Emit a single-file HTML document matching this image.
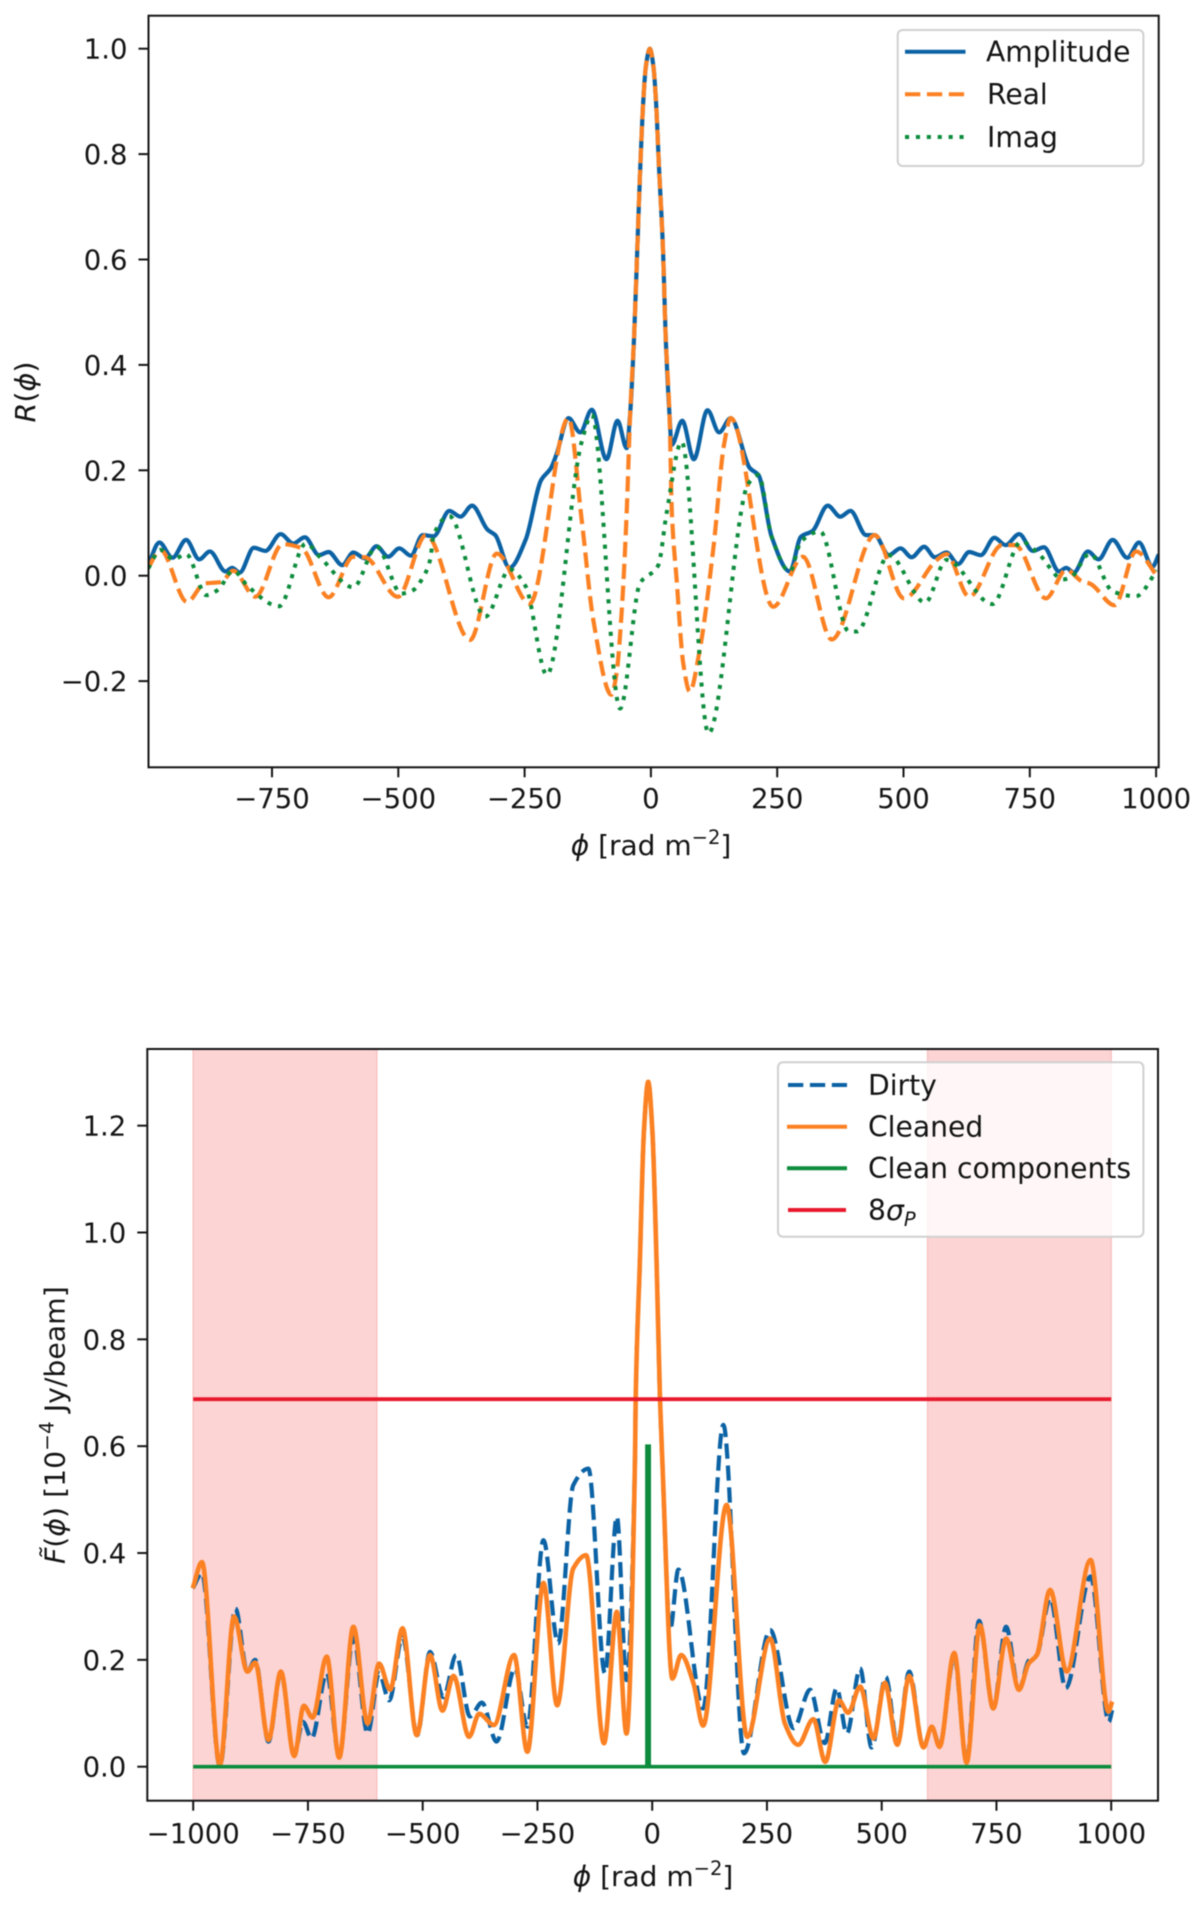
<!DOCTYPE html>
<html>
<head>
<meta charset="utf-8">
<title>RM spread function and cleaned Faraday spectrum</title>
<style>
html,body{margin:0;padding:0;background:#fff;}
#figure{display:block;width:1200px;height:1908px;filter:blur(0.6px);}
text{font-family:"DejaVu Sans","Liberation Sans",sans-serif;font-size:27.5px;fill:#141414;}
.it{font-style:italic;}
.sm{font-size:19.5px;}
.lg{font-size:28.2px;}
.ti{font-size:28px;}
</style>
</head>
<body>
<svg id="figure" xmlns="http://www.w3.org/2000/svg" width="1200" height="1908" viewBox="0 0 1200 1908">
  <defs>
    <clipPath id="clip-top"><rect x="148.5" y="15.7" width="1010.2" height="751.6"/></clipPath>
    <clipPath id="clip-bottom"><rect x="147.3" y="1049" width="1010.7" height="751.7"/></clipPath>
  </defs>
  <rect x="148.5" y="15.7" width="1010.2" height="751.6" fill="#fff"/>
  <rect x="147.3" y="1049" width="1010.7" height="751.7" fill="#fff"/>
  <g id="top-bands" clip-path="url(#clip-top)"></g>
  <g id="bottom-bands" clip-path="url(#clip-bottom)"></g>
  <g id="bottom-lines" clip-path="url(#clip-bottom)"></g>
  <g id="top-axes"></g>
  <g id="bottom-axes"></g>

  <text transform="translate(35,422.5) rotate(-90) scale(1.04,1)" text-anchor="start"><tspan class="it">R</tspan>(<tspan class="it">ϕ</tspan>)</text>
  <text class="ti" x="651" y="855" text-anchor="middle"><tspan class="it">ϕ</tspan> [rad m<tspan class="sm" dy="-11">−2</tspan><tspan dy="11">]</tspan></text>
  <text transform="translate(64.5,1564) rotate(-90) scale(1.03,1)" text-anchor="start"><tspan class="it">F̃</tspan>(<tspan class="it">ϕ</tspan>) [10<tspan class="sm" dy="-11">−4</tspan><tspan dy="11"> Jy/beam]</tspan></text>
  <text class="ti" x="653" y="1886" text-anchor="middle"><tspan class="it">ϕ</tspan> [rad m<tspan class="sm" dy="-11">−2</tspan><tspan dy="11">]</tspan></text>

  <g>
    <rect x="897.7" y="30" width="245.7" height="136" rx="5" fill="#fff" fill-opacity="0.8" stroke="#d0d0d0" stroke-width="2"/>
    <line x1="905" x2="965.5" y1="51.7" y2="51.7" stroke="#0b62a4" stroke-width="4"/>
    <text class="lg" x="986" y="61.5">Amplitude</text>
    <line x1="905" x2="965.5" y1="94.3" y2="94.3" stroke="#fb8122" stroke-width="4" stroke-dasharray="15.3 6.6"/>
    <text class="lg" x="987" y="104">Real</text>
    <line x1="905" x2="965.5" y1="137" y2="137" stroke="#0c8c3c" stroke-width="4" stroke-dasharray="4.1 6.8"/>
    <text class="lg" x="987" y="147">Imag</text>
  </g>
  <g>
    <rect x="778" y="1062.3" width="365.4" height="174.4" rx="5" fill="#fff" fill-opacity="0.8" stroke="#d0d0d0" stroke-width="2"/>
    <line x1="788" x2="847" y1="1085" y2="1085" stroke="#0b62a4" stroke-width="4" stroke-dasharray="15.3 6.6"/>
    <text class="lg" x="868" y="1095">Dirty</text>
    <line x1="787" x2="847" y1="1126.7" y2="1126.7" stroke="#fb8122" stroke-width="4"/>
    <text class="lg" x="868" y="1136.7">Cleaned</text>
    <line x1="787" x2="847" y1="1168.3" y2="1168.3" stroke="#0c8c3c" stroke-width="4"/>
    <text class="lg" x="868" y="1178">Clean components</text>
    <line x1="788" x2="846" y1="1210" y2="1210" stroke="#e8192c" stroke-width="4"/>
    <text class="lg" x="868" y="1220">8<tspan class="it">σ</tspan><tspan class="it sm" dy="6">P</tspan></text>
  </g>
</svg>
<script>
// ---- Top chart data: R(phi) ----
const topXTicks = [-750,-500,-250,0,250,500,750,1000];
const topYTicks = [-0.2,0,0.2,0.4,0.6,0.8,1.0];
const ampPhi = [-995,-973,-947,-920,-894,-873,-842,-829,-814,-786,-763,-733,-708,-685,-657,-638,-611,-589,-566,-543,-520,-498,-475,-452,-430,-399,-377,-354,-323,-308,-280,-248,-217,-198,-187,-163,-140,-117,-88,-66,-48,-41,-33,-27,-21,-15,-10,-2,5,10,16,24,29,37,41,62,85,112,135,158,196,213,239,275,297,320,350,375,395,426,443,471,494,516,541,562,585,608,630,653,680,702,729,756,778,808,822,837,865,886,914,943,966,993,1005];
const ampVals = [.02,.063,.034,.068,.031,.046,.008,.015,.006,.053,.047,.079,.061,.073,.039,.045,.02,.044,.033,.056,.036,.052,.038,.077,.075,.123,.112,.133,.087,.077,.015,.068,.182,.204,.23,.299,.272,.315,.221,.294,.242,.308,.46,.618,.776,.902,.966,1.0,.966,.902,.776,.618,.46,.302,.248,.294,.221,.314,.272,.299,.204,.191,.074,.008,.074,.085,.133,.112,.123,.077,.077,.039,.052,.035,.055,.035,.044,.022,.045,.039,.072,.058,.079,.047,.054,.008,.015,.006,.046,.031,.068,.034,.063,.017,.04];
const realPhi = [-995,-971,-918,-884,-850,-827,-783,-729,-691,-638,-589,-566,-501,-445,-358,-305,-240,-163,-137,-114,-78,-68,-58,-48,-41,-33,-27,-21,-15,-10,-2,5,10,16,24,29,37,41.5,51,64,77,95,124,145,158,242,301,358,443,501,566,585,630,695,721,782,822,854,869,918,960,1005];
const realVals = [.015,.049,-.05,-.015,-.012,.0095,-.04,.06,.052,-.041,.036,.035,-.04,.077,-.122,.042,-.053,.299,.106,-.084,-.226,-.185,-.071,.118,.308,.46,.618,.776,.902,.966,1.0,.966,.902,.776,.618,.46,.302,.119,-.008,-.166,-.22,-.15,.055,.25,.299,-.059,.036,-.121,.077,-.043,.03,.041,-.04,.058,.058,-.043,.011,-.011,-.015,-.056,.046,-.005];
const imagPhi = [-995,-971,-945,-920,-880,-857,-827,-797,-736,-683,-653,-589,-543,-494,-470,-456,-437,-430,-399,-328,-279,-248,-206,-137,-117,-61,-21.6,14.7,31,61,114,193,213,239,275,297,335,392,408,471,543,585,676,733,767,816,830,869,914,960,1002];
const imagVals = [.014,.049,.031,.041,-.037,-.027,.0095,-.021,-.058,.061,.033,-.022,.055,-.034,-.027,-.011,.03,.077,.113,-.078,.012,-.02,-.188,.254,.305,-.252,-.0145,.02,.118,.254,-.299,.175,.191,.074,.008,.065,.084,-.106,-.106,.039,-.051,.03,-.054,.065,.042,-.007,-.004,.042,-.03,-.039,.01];

// ---- Bottom chart data: F(phi) ----
const bottomXTicks = [-1000,-750,-500,-250,0,250,500,750,1000];
const bottomYTicks = [0,0.2,0.4,0.6,0.8,1.0,1.2];
const bandStarts = [-1000,600];
const bandEnds = [-600,1000];
const cleanedPhi = [-1001,-981,-942,-911,-882,-865,-836,-809,-780,-759,-740,-709,-682,-651,-620,-595,-571,-544,-513,-484,-457,-433,-399,-377,-345,-301,-272,-237,-207,-172,-144,-105,-77,-56,-37.5,-36,-27,-18,-8.7,.4,9.6,17,22,44,63,90,111,162,207,257,289,318,351,377,407,427,453,482,507,534,560,591,609,626,658,685,714,743,771,799,820,838,867,903,955,994,1002];
const cleanedVals = [.334,.383,.003,.281,.178,.195,.05,.178,.02,.114,.092,.206,.017,.262,.081,.193,.144,.259,.059,.209,.105,.17,.056,.099,.078,.209,.028,.344,.115,.371,.396,.044,.29,.062,.574,.688,.942,1.19,1.282,1.19,.942,.688,.574,.165,.209,.156,.077,.49,.056,.24,.081,.041,.089,.009,.124,.101,.15,.053,.157,.041,.17,.036,.075,.037,.213,.0075,.265,.109,.24,.144,.193,.209,.331,.178,.387,.103,.122];
const dirtyPhi = [-1001,-981,-942,-908,-882,-865,-836,-809,-780,-761,-742,-709,-682,-651,-620,-595,-573,-544,-512,-484,-455,-427,-397,-371,-339,-299,-272,-237,-205,-172,-139,-103,-77,-56,-37.5,-36,-27,-18,-8.7,.4,9.6,17,22,39,57,111,155,200,257,308,344,376,402,424,453,478,509,534,560,591,609,626,658,685,712,743,771,799,820,838,867,901,955,995,1002];
const dirtyVals = [.334,.362,0,.296,.178,.2,.047,.175,.022,.084,.053,.175,.019,.243,.062,.175,.124,.243,.059,.215,.13,.209,.094,.12,.047,.184,.075,.424,.231,.527,.558,.175,.468,.162,.574,.688,.942,1.19,1.282,1.19,.942,.688,.574,.256,.369,.109,.64,.025,.256,.072,.144,.044,.147,.062,.184,.036,.168,.044,.178,.037,.075,.04,.206,.009,.273,.109,.262,.144,.198,.209,.315,.147,.356,.084,.106];
const componentPhi = [-1000,-11.5,-11.5,-6.5,-6.5,1000];
const componentVals = [0,0,.6,.6,0,0];
const thresholdPhi = [-1000,1000];
const thresholdVals = [.688,.688];

// ---- Axis functions ----
const topX = p => 650.9 + 0.5052 * p;
const topY = v => 575.7 - 527 * v;
const botX = p => 652.2 + 0.459 * p;
const botY = v => 1766.7 - 534.2 * v;

const NS = 'http://www.w3.org/2000/svg';
function make(tag, parent, attrs){
  const el = document.createElementNS(NS, tag);
  for (const k in attrs) el.setAttribute(k, attrs[k]);
  parent.appendChild(el);
  return el;
}
function fmt(v, digits){
  const s = Math.abs(v).toFixed(digits);
  return (v < 0 ? '\u2212' : '') + s;
}
// Monotone cubic path through the read-off points
function curve(xs, ys){
  const n = xs.length, d = [], m = [];
  for (let i = 0; i < n - 1; i++) d.push((ys[i+1]-ys[i])/(xs[i+1]-xs[i]));
  for (let i = 0; i < n; i++){
    if (i === 0) m.push(d[0]);
    else if (i === n-1) m.push(d[n-2]);
    else if (d[i-1]*d[i] <= 0) m.push(0);
    else {
      const h0 = xs[i]-xs[i-1], h1 = xs[i+1]-xs[i];
      m.push(3*(h0+h1)/((2*h1+h0)/d[i-1] + (h1+2*h0)/d[i]));
    }
  }
  let p = 'M' + xs[0].toFixed(2) + ',' + ys[0].toFixed(2);
  for (let i = 0; i < n - 1; i++){
    const h = (xs[i+1]-xs[i])/3;
    p += 'C' + (xs[i]+h).toFixed(2) + ',' + (ys[i]+m[i]*h).toFixed(2) + ' ' + (xs[i+1]-h).toFixed(2) + ',' + (ys[i+1]-m[i+1]*h).toFixed(2) + ' ' + xs[i+1].toFixed(2) + ',' + ys[i+1].toFixed(2);
  }
  return p;
}
function series(parent, phi, vals, fx, fy, style){
  const path = make('path', parent, Object.assign({fill:'none','stroke-linejoin':'round'}, style));
  path.setAttribute('d', curve(phi.map(fx), vals.map(fy)));
  return path;
}
function straight(parent, phi, vals, fx, fy, style){
  const path = make('path', parent, Object.assign({fill:'none','stroke-linejoin':'miter'}, style));
  path.setAttribute('d', phi.map((p,i) => (i ? 'L' : 'M') + fx(p).toFixed(2) + ',' + fy(vals[i]).toFixed(2)).join(''));
  return path;
}

// ---- Top chart marks ----
const topG = document.getElementById('top-bands');
const ampLine = series(topG, ampPhi, ampVals, topX, topY, {stroke:'#0b62a4','stroke-width':4.2});


const realLine = series(topG, realPhi, realVals, topX, topY, {stroke:'#fb8122','stroke-width':4.2,'stroke-dasharray':'15.3 6.6'});


const imagLine = series(topG, imagPhi, imagVals, topX, topY, {stroke:'#0c8c3c','stroke-width':4,'stroke-dasharray':'4.1 6.8'});



// ---- Bottom chart marks ----
const bandG = document.getElementById('bottom-bands');
bandStarts.forEach((s, i) => {
  const band = make('rect', bandG, {x:botX(s), y:1049, width:botX(bandEnds[i])-botX(s), height:751.7, fill:'#fcd4d4', stroke:'#f9c4c4', 'stroke-width':1.5});
  
  
});
const lineG = document.getElementById('bottom-lines');
const dirtyLine = series(lineG, dirtyPhi, dirtyVals, botX, botY, {stroke:'#0b62a4','stroke-width':4.2,'stroke-dasharray':'15.3 6.6'});


const cleanedLine = series(lineG, cleanedPhi, cleanedVals, botX, botY, {stroke:'#fb8122','stroke-width':4.6});


const componentLine = straight(lineG, componentPhi, componentVals, botX, botY, {stroke:'#0c8c3c','stroke-width':3.6});


const thresholdLine = straight(lineG, thresholdPhi, thresholdVals, botX, botY, {stroke:'#e8192c','stroke-width':3.8});



// ---- Axes ----
function drawAxes(g, box, xTicks, yTicks, fx, fy, xLabelY){
  const stroke = '#141414';
  xTicks.forEach(t => {
    const x = fx(t);
    const tick = make('line', g, {x1:x, x2:x, y1:box.b, y2:box.b+10, stroke:stroke, 'stroke-width':2});
    
    
    const label = make('text', g, {x:x, y:xLabelY, 'text-anchor':'middle'});
    label.textContent = fmt(t, 0);
    
    
  });
  yTicks.forEach(t => {
    const y = fy(t);
    const tick = make('line', g, {x1:box.l-10, x2:box.l, y1:y, y2:y, stroke:stroke, 'stroke-width':2});
    
    
    const label = make('text', g, {x:box.l-21, y:y+10, 'text-anchor':'end'});
    label.textContent = fmt(t, 1);
    
    
  });
  const frame = make('rect', g, {x:box.l, y:box.t, width:box.r-box.l, height:box.b-box.t, fill:'none', stroke:stroke, 'stroke-width':2});
  
  
}
drawAxes(document.getElementById('top-axes'), {l:148.5,r:1158.7,t:15.7,b:767.3}, topXTicks, topYTicks, topX, topY, 808);
drawAxes(document.getElementById('bottom-axes'), {l:147.3,r:1158,t:1049,b:1800.7}, bottomXTicks, bottomYTicks, botX, botY, 1843);
</script>
</body>
</html>
